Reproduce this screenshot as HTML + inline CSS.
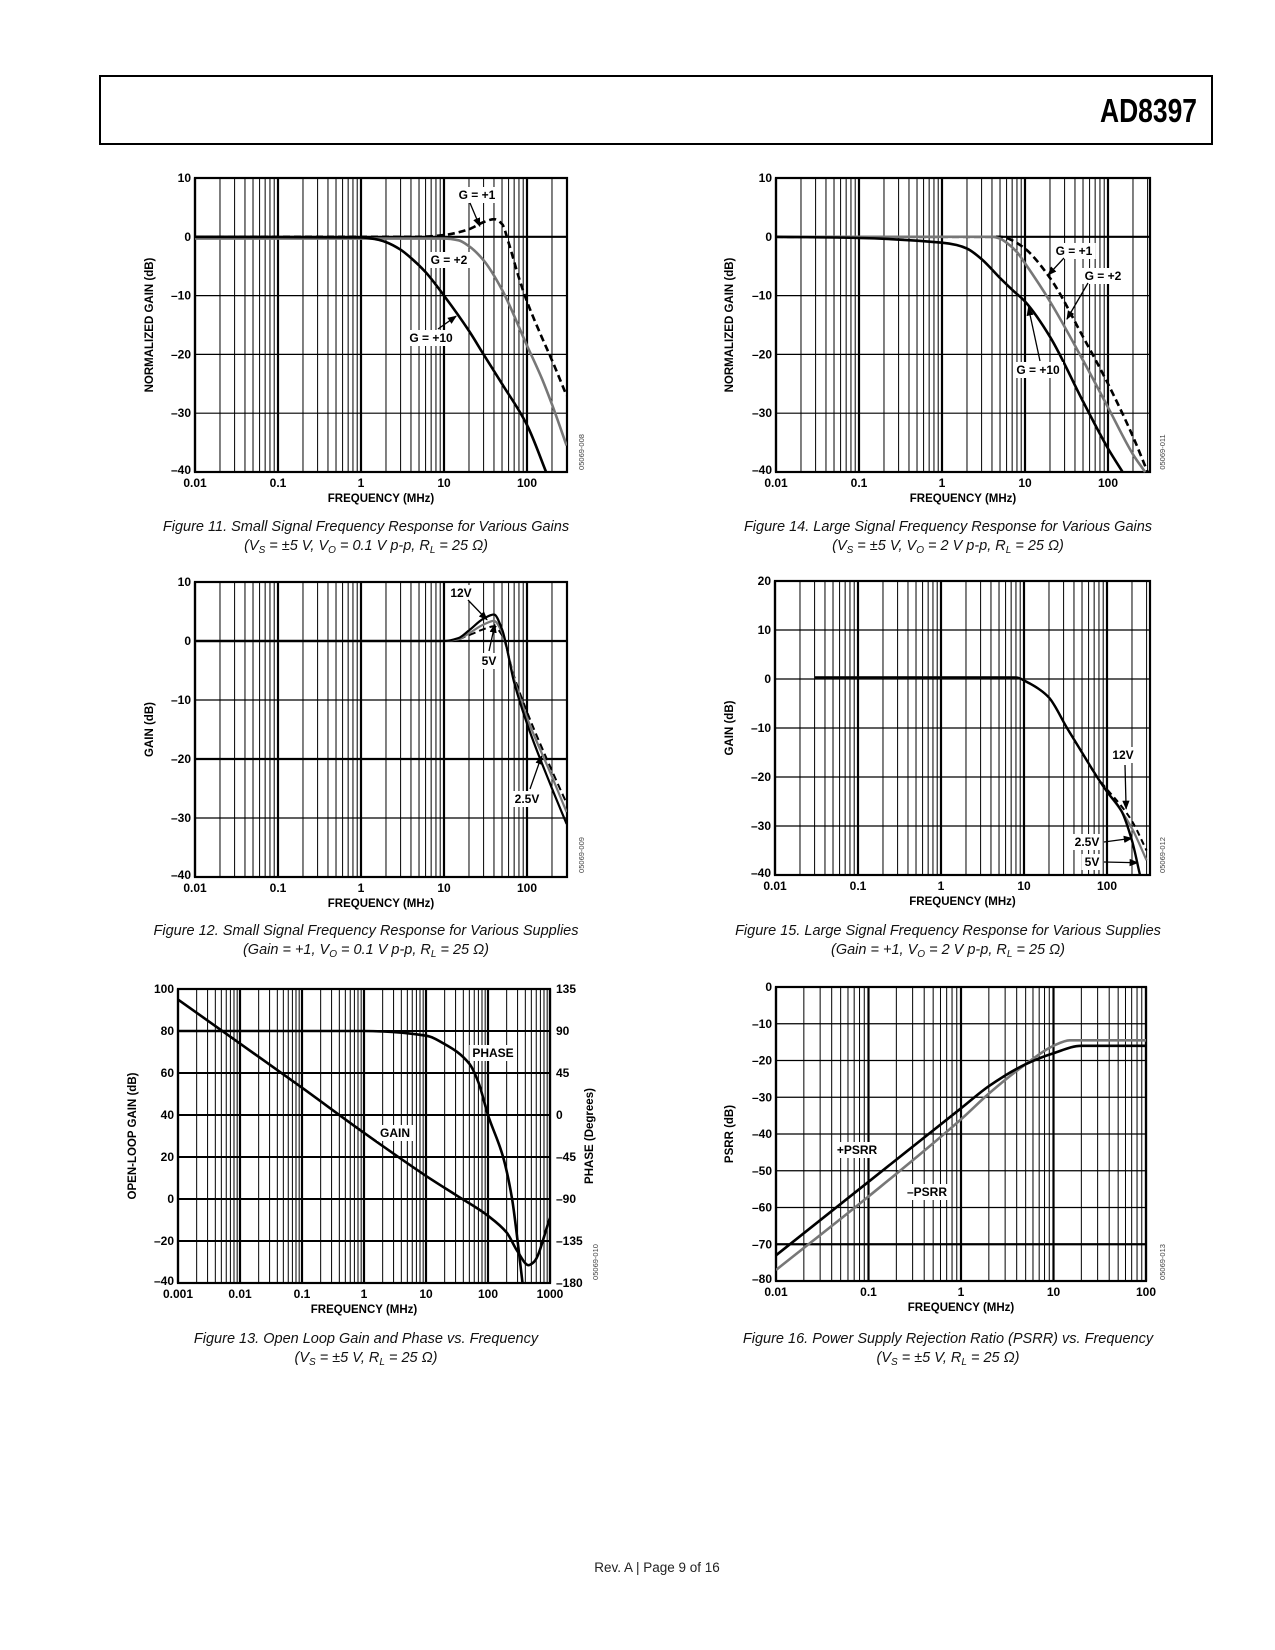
<!DOCTYPE html>
<html><head><meta charset="utf-8"><title>AD8397 Page 9</title>
<style>
html,body{margin:0;padding:0;background:#fff;}
svg{display:block;font-family:"Liberation Sans",sans-serif;}
.tick{font-size:12px;font-weight:bold;fill:#000;}
.ttl{font-size:11.5px;font-weight:bold;fill:#000;}
.cap{font-size:14.5px;font-style:italic;fill:#111;}
.ann{font-size:12px;font-weight:bold;fill:#000;}
</style></head>
<body>
<svg id="page" width="1275" height="1650" viewBox="0 0 1275 1650" xmlns="http://www.w3.org/2000/svg">
<defs>
<marker id="ah" viewBox="0 0 10 10" refX="9" refY="5" markerWidth="7" markerHeight="7" orient="auto-start-reverse"><path d="M0,1 L10,5 L0,9 z" fill="#000"/></marker>
</defs>
<rect x="100" y="76" width="1112" height="68" fill="none" stroke="#000" stroke-width="2"/>
<text x="1100" y="122" textLength="97" lengthAdjust="spacingAndGlyphs" style="font-family:'Liberation Sans Narrow','Liberation Sans',sans-serif;font-weight:bold;font-size:33px;">AD8397</text>

<text class="cap" x="366" y="531" text-anchor="middle">Figure 11. Small Signal Frequency Response for Various Gains</text>
<text class="cap" x="366" y="550" text-anchor="middle">(V<tspan font-size="10" dy="3">S</tspan><tspan dy="-3"> = ±5 V, V</tspan><tspan font-size="10" dy="3">O</tspan><tspan dy="-3"> = 0.1 V p-p, R</tspan><tspan font-size="10" dy="3">L</tspan><tspan dy="-3"> = 25 Ω)</tspan></text>
<text class="cap" x="948" y="531" text-anchor="middle">Figure 14. Large Signal Frequency Response for Various Gains</text>
<text class="cap" x="948" y="550" text-anchor="middle">(V<tspan font-size="10" dy="3">S</tspan><tspan dy="-3"> = ±5 V, V</tspan><tspan font-size="10" dy="3">O</tspan><tspan dy="-3"> = 2 V p-p, R</tspan><tspan font-size="10" dy="3">L</tspan><tspan dy="-3"> = 25 Ω)</tspan></text>
<text class="cap" x="366" y="935" text-anchor="middle">Figure 12. Small Signal Frequency Response for Various Supplies</text>
<text class="cap" x="366" y="954" text-anchor="middle">(Gain = +1, V<tspan font-size="10" dy="3">O</tspan><tspan dy="-3"> = 0.1 V p-p, R</tspan><tspan font-size="10" dy="3">L</tspan><tspan dy="-3"> = 25 Ω)</tspan></text>
<text class="cap" x="948" y="935" text-anchor="middle">Figure 15. Large Signal Frequency Response for Various Supplies</text>
<text class="cap" x="948" y="954" text-anchor="middle">(Gain = +1, V<tspan font-size="10" dy="3">O</tspan><tspan dy="-3"> = 2 V p-p, R</tspan><tspan font-size="10" dy="3">L</tspan><tspan dy="-3"> = 25 Ω)</tspan></text>
<text class="cap" x="366" y="1343" text-anchor="middle">Figure 13. Open Loop Gain and Phase vs. Frequency</text>
<text class="cap" x="366" y="1362" text-anchor="middle">(V<tspan font-size="10" dy="3">S</tspan><tspan dy="-3"> = ±5 V, R</tspan><tspan font-size="10" dy="3">L</tspan><tspan dy="-3"> = 25 Ω)</tspan></text>
<text class="cap" x="948" y="1343" text-anchor="middle">Figure 16. Power Supply Rejection Ratio (PSRR) vs. Frequency</text>
<text class="cap" x="948" y="1362" text-anchor="middle">(V<tspan font-size="10" dy="3">S</tspan><tspan dy="-3"> = ±5 V, R</tspan><tspan font-size="10" dy="3">L</tspan><tspan dy="-3"> = 25 Ω)</tspan></text>
<text x="657" y="1572" text-anchor="middle" style="font-size:13.5px;fill:#222;">Rev. A | Page 9 of 16</text>
</svg>
<script>
// ---- Figure 11 data (MHz, dB)
const fig11G1 = [[0.01,0],[5,0],[10,0.3],[20,1.3],[30,2.5],[40,3],[50,2.2],[60,-1],[80,-7],[100,-11],[150,-17],[200,-21],[300,-27]];
const fig11G2 = [[0.01,-0.3],[10,-0.3],[15,-0.6],[20,-1.6],[30,-4],[50,-9],[100,-18.5],[150,-24],[200,-28.5],[300,-35.5]];
const fig11G10 = [[0.01,0],[1,-0.1],[1.5,-0.4],[2,-0.9],[3,-2.2],[4,-3.6],[6,-6],[10,-10],[20,-16],[30,-20],[50,-25],[100,-32],[170,-40]];
// ---- Figure 14 data
const fig14G1 = [[0.01,0],[5,0],[6,-0.2],[7,-0.6],[10,-2],[20,-7],[50,-17],[100,-25],[200,-34],[300,-40]];
const fig14G2 = [[0.01,0],[4,0],[5,-0.3],[6,-1],[8,-2.6],[10,-4.5],[20,-11],[50,-21],[100,-29],[200,-37],[280,-40]];
const fig14G10 = [[0.01,0],[0.1,-0.2],[1,-1],[1.5,-1.4],[2,-2],[3,-3.8],[5,-7],[7,-9],[10,-11],[20,-17],[50,-28],[100,-36],[150,-40]];
// ---- Figure 12 data
const fig12S12 = [[0.01,0],[10,0],[15,0.5],[20,1.8],[30,3.8],[40,4.5],[50,2],[70,-7],[100,-14],[200,-25],[300,-31]];
const fig12S5 = [[0.01,0],[10,0],[15,0.3],[20,1.3],[30,2.8],[40,3.4],[50,1.5],[70,-6.5],[100,-13],[200,-23],[300,-29]];
const fig12S25 = [[0.01,0],[12,0],[20,1],[30,2],[40,2.5],[50,1],[70,-6],[100,-12],[200,-22],[300,-27.5]];
// ---- Figure 15 data
const fig15S5 = [[0.03,0.3],[8,0.3],[9,0.1],[10,-0.3],[12,-1],[15,-2],[20,-3.8],[33,-10],[50,-15],[76,-20],[100,-23],[150,-27],[200,-33],[250,-40]];
const fig15S25 = [[0.03,0.3],[8,0.3],[9,0.1],[10,-0.3],[12,-1],[15,-2],[20,-3.8],[33,-10],[50,-15],[76,-20],[100,-23],[150,-27],[200,-30.5],[300,-37]];
const fig15S12 = [[0.03,0.3],[8,0.3],[9,0.1],[10,-0.3],[12,-1],[15,-2],[20,-3.8],[33,-10],[50,-15],[76,-20],[100,-22.5],[150,-26],[200,-29],[300,-35]];
// ---- Figure 13 data
const fig13Gain = [[0.001,95],[0.01,74],[0.1,53],[1,31.5],[10,11],[30,2],[100,-8],[200,-16],[300,-25],[450,-31.5],[550,-30],[1000,-9]];
const fig13Phase = [[0.001,90],[1,90],[10,85],[20,76],[50,55],[70,35],[100,0],[175,-45],[245,-90],[300,-135],[360,-180]];
// ---- Figure 16 data
const fig16Pos = [[0.01,-73],[0.1,-53],[1,-33],[2,-27],[5,-21],[10,-18],[20,-16],[100,-16]];
const fig16Neg = [[0.01,-77],[0.1,-57],[1,-36],[2,-29],[5,-21],[10,-16],[15,-14.5],[100,-14.5]];
// tick labels
const ticksX1 = ["0.01","0.1","1","10","100"];
const ticksX5 = ["0.001","0.01","0.1","1","10","100","1000"];
const ticksY40 = ["10","0","–10","–20","–30","–40"];
const ticksY4 = ["20","10","0","–10","–20","–30","–40"];
const ticksY5 = ["100","80","60","40","20","0","–20","–40"];
const ticksPhase = ["135","90","45","0","–45","–90","–135","–180"];
const ticksY6 = ["0","–10","–20","–30","–40","–50","–60","–70","–80"];

const NS = "http://www.w3.org/2000/svg";
const svg = document.getElementById('page');
function el(tag, parent){const e=document.createElementNS(NS,tag);parent.appendChild(e);return e;}
function set(e,o){for(const k in o)e.setAttribute(k,o[k]);}
let clipN=0;

function monotonePath(P){
  const n=P.length; const dx=[],s=[],m=[];
  for(let i=0;i<n-1;i++){dx[i]=P[i+1][0]-P[i][0];s[i]=(P[i+1][1]-P[i][1])/dx[i];}
  m[0]=s[0]; m[n-1]=s[n-2];
  for(let i=1;i<n-1;i++){ m[i]=(s[i-1]*s[i]<=0)?0:3*(dx[i-1]+dx[i])/((2*dx[i]+dx[i-1])/s[i-1]+(dx[i]+2*dx[i-1])/s[i]); }
  let d='M'+P[0][0].toFixed(1)+','+P[0][1].toFixed(1);
  for(let i=0;i<n-1;i++){
    const h=dx[i]/3;
    d+=`C${(P[i][0]+h).toFixed(1)},${(P[i][1]+m[i]*h).toFixed(1)} ${(P[i+1][0]-h).toFixed(1)},${(P[i+1][1]-m[i+1]*h).toFixed(1)} ${P[i+1][0].toFixed(1)},${P[i+1][1].toFixed(1)}`;
  }
  return d;
}

function drawChart(cfg){
  const g = el('g', svg);
  
  
  const fmax = cfg.fmin*Math.pow(10,(cfg.xr-cfg.x0)/cfg.dec);
  const xs = f => cfg.x0 + cfg.dec*Math.log10(f/cfg.fmin);
  const ys = v => cfg.yt + (cfg.ymax-v)/(cfg.ymax-cfg.ymin)*(cfg.yb-cfg.yt);
  const ys2 = v => cfg.yt + (cfg.pmax-v)/(cfg.pmax-cfg.pmin)*(cfg.yb-cfg.yt);
  for(let d=cfg.fmin; d<fmax*1.001; d*=10){
    for(let m=1;m<=9;m++){
      const x = xs(d*m);
      if(x>cfg.xr+0.5) break;
      const l = el('line', g);
      
      
      set(l,{x1:x,x2:x,y1:cfg.yt,y2:cfg.yb,stroke:'#000','stroke-width':m===1?2.2:1});
    }
  }
  for(let v=cfg.ymin; v<=cfg.ymax+1e-6; v+=cfg.ystep){
    const y=ys(v);
    const l = el('line', g);
    
    
    set(l,{x1:cfg.x0,x2:cfg.xr,y1:y,y2:y,stroke:'#000','stroke-width':(cfg.thickY||[]).includes(v)?2.2:(cfg.hw||1.2)});
  }
  const fr = el('rect', g);
  
  
  set(fr,{x:cfg.x0,y:cfg.yt,width:cfg.xr-cfg.x0,height:cfg.yb-cfg.yt,fill:'none',stroke:'#000','stroke-width':2.2});
  cfg.xt.forEach((t,i)=>{
    const tx = el('text', g);
    
    
    set(tx,{x:xs(cfg.fmin*Math.pow(10,i)),y:cfg.yb+15,'text-anchor':'middle',class:'tick'});
    tx.textContent=t;
  });
  cfg.yl.forEach((t,i)=>{
    const v = cfg.ymax - i*cfg.ystep;
    const tx = el('text', g);
    
    
    set(tx,{x:cfg.x0-4,y:ys(v)+(i===cfg.yl.length-1?2:4),'text-anchor':'end',class:'tick'});
    tx.textContent=t;
  });
  if(cfg.pl){
    cfg.pl.forEach((t,i)=>{
      const v = cfg.pmax - i*cfg.pstep;
      const tx = el('text', g);
      
      
      set(tx,{x:cfg.xr+6,y:ys2(v)+4,'text-anchor':'start',class:'tick'});
      tx.textContent=t;
    });
    const pt = el('text', g);
    
    
    set(pt,{x:cfg.ptx,y:(cfg.yt+cfg.yb)/2,'text-anchor':'middle',class:'ttl',transform:`rotate(-90 ${cfg.ptx} ${(cfg.yt+cfg.yb)/2})`});
    pt.textContent='PHASE (Degrees)';
  }
  const xt = el('text', g);
  
  
  set(xt,{x:(cfg.x0+cfg.xr)/2,y:cfg.yb+30,'text-anchor':'middle',class:'ttl'});
  xt.textContent='FREQUENCY (MHz)';
  const yt = el('text', g);
  
  
  const cy=(cfg.yt+cfg.yb)/2;
  set(yt,{x:cfg.ytx,y:cy,'text-anchor':'middle',class:'ttl',transform:`rotate(-90 ${cfg.ytx} ${cy})`});
  yt.textContent=cfg.ytitle;
  const id = el('text', g);
  
  
  set(id,{x:cfg.idx,y:cfg.idy,'text-anchor':'middle',transform:`rotate(-90 ${cfg.idx} ${cfg.idy})`,style:'font-size:7.5px;fill:#444'});
  id.textContent=cfg.id;
  const cid='clip'+(clipN++);
  const cp = el('clipPath', g); cp.setAttribute('id',cid);
  const cr = el('rect', cp); set(cr,{x:cfg.x0,y:cfg.yt,width:cfg.xr-cfg.x0,height:cfg.yb-cfg.yt+2});
  cfg.series.forEach(s=>{
    const yf = s.phase?ys2:ys;
    const P = s.data.map(p=>[xs(p[0]),yf(p[1])]);
    const pa = el('path', g);
    
    
    set(pa,{d:monotonePath(P),fill:'none',stroke:s.color,'stroke-width':s.w||2.6,'stroke-dasharray':s.dash||'none','clip-path':`url(#${cid})`,'stroke-linejoin':'round'});
  });
  (cfg.ann||[]).forEach(a=>{
    const tx = el('text', g);
    
    
    set(tx,{x:a.x,y:a.y+4,'text-anchor':'middle',class:'ann'});
    tx.textContent=a.t;
    const bb=tx.getBBox();
    const bg=document.createElementNS(NS,'rect');
    
    
    set(bg,{x:bb.x-3,y:bb.y-1,width:bb.width+6,height:bb.height+2,fill:'#fff'});
    g.insertBefore(bg,tx);
    if(a.to){
      const ar = el('line', g);
      
      
      set(ar,{x1:a.fx,y1:a.fy,x2:xs(a.to[0]),y2:(a.ph?ys2:ys)(a.to[1]),stroke:'#000','stroke-width':1.3,'marker-end':'url(#ah)'});
    }
  });
}

drawChart({name:'figure-11-chart',x0:195,dec:83,xr:567,fmin:0.01,yt:178,yb:472,ymax:10,ymin:-40,ystep:10,thickY:[0],
  xt:ticksX1,yl:ticksY40,ytitle:'NORMALIZED GAIN (dB)',ytx:153,id:'05069-008',idx:584,idy:452,
  series:[{name:'gain-plus-1-line',data:fig11G1,color:'#000',dash:'7 4'},{name:'gain-plus-2-line',data:fig11G2,color:'#777'},{name:'gain-plus-10-line',data:fig11G10,color:'#000'}],
  ann:[{name:'g1-label',t:'G = +1',x:477,y:195,fx:470,fy:203,to:[27,1.8]},{name:'g2-label',t:'G = +2',x:449,y:260},{name:'g10-label',t:'G = +10',x:431,y:338,fx:438,fy:329,to:[14,-13.5]}]});
drawChart({name:'figure-14-chart',x0:776,dec:83,xr:1150,fmin:0.01,yt:178,yb:472,ymax:10,ymin:-40,ystep:10,thickY:[0],
  xt:ticksX1,yl:ticksY40,ytitle:'NORMALIZED GAIN (dB)',ytx:733,id:'05069-011',idx:1165,idy:452,
  series:[{name:'gain-plus-1-line',data:fig14G1,color:'#000',dash:'7 4'},{name:'gain-plus-2-line',data:fig14G2,color:'#777'},{name:'gain-plus-10-line',data:fig14G10,color:'#000'}],
  ann:[{name:'g1-label',t:'G = +1',x:1074,y:251,fx:1064,fy:258,to:[19,-6.5]},{name:'g2-label',t:'G = +2',x:1103,y:276,fx:1088,fy:283,to:[32,-14]},{name:'g10-label',t:'G = +10',x:1038,y:370,fx:1040,fy:361,to:[11,-12]}]});
drawChart({name:'figure-12-chart',x0:195,dec:83,xr:567,fmin:0.01,yt:582,yb:877,ymax:10,ymin:-40,ystep:10,thickY:[0,-20],
  xt:ticksX1,yl:ticksY40,ytitle:'GAIN (dB)',ytx:153,id:'05069-009',idx:584,idy:855,
  series:[{name:'supply-2-5v-line',data:fig12S25,color:'#000',dash:'7 4',w:2},{name:'supply-5v-line',data:fig12S5,color:'#777',w:2.2},{name:'supply-12v-line',data:fig12S12,color:'#000',w:2.2}],
  ann:[{name:'12v-label',t:'12V',x:461,y:593,fx:468,fy:600,to:[33,3.6]},{name:'5v-label',t:'5V',x:489,y:661,fx:489,fy:651,to:[41,2.8]},{name:'2-5v-label',t:'2.5V',x:527,y:799,fx:530,fy:789,to:[150,-19.5]}]});
drawChart({name:'figure-15-chart',x0:775,dec:83,xr:1150,fmin:0.01,yt:581,yb:875,ymax:20,ymin:-40,ystep:10,
  xt:ticksX1,yl:ticksY4,ytitle:'GAIN (dB)',ytx:733,id:'05069-012',idx:1165,idy:855,
  series:[{name:'supply-2-5v-line',data:fig15S25,color:'#777',w:2.2},{name:'supply-12v-line',data:fig15S12,color:'#000',dash:'6 4',w:2},{name:'supply-5v-line',data:fig15S5,color:'#000',w:2.4}],
  ann:[{name:'12v-label',t:'12V',x:1123,y:755,fx:1125,fy:765,to:[170,-26.5]},{name:'2-5v-label',t:'2.5V',x:1087,y:842,fx:1104,fy:842,to:[200,-32.5]},{name:'5v-label',t:'5V',x:1092,y:862,fx:1104,fy:862,to:[235,-37.5]}]});
drawChart({name:'figure-13-chart',x0:178,dec:62,xr:550,fmin:0.001,yt:989,yb:1283,ymax:100,ymin:-40,ystep:20,hw:2,
  pmax:135,pmin:-180,pstep:45,pl:ticksPhase,ptx:593,
  xt:ticksX5,yl:ticksY5,ytitle:'OPEN-LOOP GAIN (dB)',ytx:136,id:'05069-010',idx:598,idy:1262,
  series:[{name:'open-loop-gain-line',data:fig13Gain,color:'#000'},{name:'phase-line',data:fig13Phase,color:'#000',phase:true}],
  ann:[{name:'phase-label',t:'PHASE',x:493,y:1053},{name:'gain-label',t:'GAIN',x:395,y:1133}]});
drawChart({name:'figure-16-chart',x0:776,dec:92.5,xr:1146,fmin:0.01,yt:987,yb:1281,ymax:0,ymin:-80,ystep:10,thickY:[-70],
  xt:ticksX1,yl:ticksY6,ytitle:'PSRR (dB)',ytx:733,id:'05069-013',idx:1165,idy:1262,
  series:[{name:'minus-psrr-line',data:fig16Neg,color:'#777'},{name:'plus-psrr-line',data:fig16Pos,color:'#000'}],
  ann:[{name:'plus-psrr-label',t:'+PSRR',x:857,y:1150},{name:'minus-psrr-label',t:'–PSRR',x:927,y:1192}]});
</script>
</body></html>
